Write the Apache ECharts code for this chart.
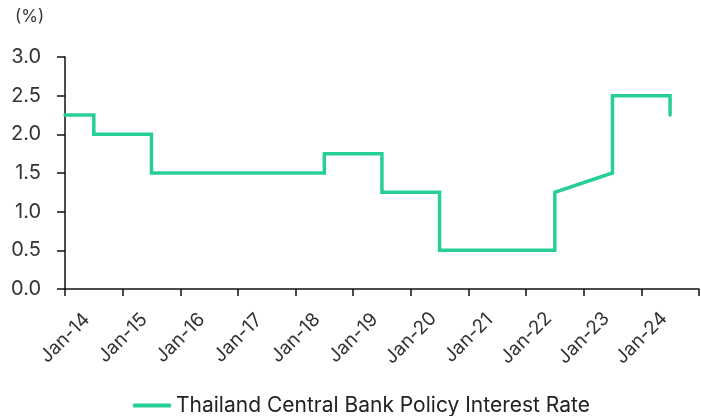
<!DOCTYPE html>
<html>
<head>
<meta charset="utf-8">
<script src="https://cdn.jsdelivr.net/npm/echarts@6/dist/echarts.min.js"></script>
<style>html,body{margin:0;padding:0;background:#fff}#c{width:701px;height:416px}</style>
</head>
<body>
<div id="c"></div>
<script>
// Half-year category axis (Jan/Jul), Jan-25 closes the axis on the right edge
var halfYears = ['Jan-14','Jul-14','Jan-15','Jul-15','Jan-16','Jul-16','Jan-17','Jul-17','Jan-18','Jul-18',
  'Jan-19','Jul-19','Jan-20','Jul-20','Jan-21','Jul-21','Jan-22','Jul-22','Jan-23','Jul-23','Jan-24','Jul-24','Jan-25'];
var tickLabels = ['Jan-14','Jan-15','Jan-16','Jan-17','Jan-18','Jan-19','Jan-20','Jan-21','Jan-22','Jan-23','Jan-24'];
var yTicks = [0.0, 0.5, 1.0, 1.5, 2.0, 2.5, 3.0];

// Policy rate path (points where the line turns)
var rateDates  = ['Jan-14','Jul-14','Jul-14','Jul-15','Jul-15','Jul-18','Jul-18','Jul-19','Jul-19','Jul-20','Jul-20','Jul-22','Jul-22','Jul-23','Jul-23','Jul-24','Jul-24'];
var rateValues = [2.25, 2.25, 2.0, 2.0, 1.5, 1.5, 1.75, 1.75, 1.25, 1.25, 0.5, 0.5, 1.25, 1.5, 2.5, 2.5, 2.25];
var seriesName = 'Thailand Central Bank Policy Interest Rate';

var FONT = 'Inter';
var chart = echarts.init(document.getElementById('c'), null, {renderer: 'canvas'});
var seriesData = rateDates.map(function (d, i) { return [d, rateValues[i]]; });

chart.setOption({
  animation: false,
  textStyle: {fontFamily: FONT},
  graphic: [{
    type: 'text', left: 15, top: 8,
    style: {text: '(%)', font: '17px ' + FONT, fill: '#333'}
  }],
  grid: {left: 65, top: 57, width: 638, height: 232, containLabel: false},
  legend: {
    bottom: -5, left: 128,
    icon: 'roundRect', itemWidth: 38, itemHeight: 4,
    textStyle: {fontSize: 21, color: '#222', fontFamily: FONT},
    data: [seriesName]
  },
  xAxis: {
    type: 'category', boundaryGap: false, data: halfYears,
    axisLine: {lineStyle: {color: '#111', width: 1.5}},
    axisTick: {interval: 1, length: 7, lineStyle: {color: '#111', width: 1.5}},
    axisLabel: {
      interval: 1, rotate: 45, margin: 49, align: 'center', verticalAlign: 'middle',
      padding: [30, 0, 0, 0],
      fontSize: 19, color: '#333', fontFamily: FONT,
      formatter: function (v) { return tickLabels.indexOf(v) >= 0 ? v : ''; }
    },
    splitLine: {show: false}
  },
  yAxis: {
    type: 'value', min: yTicks[0], max: yTicks[yTicks.length - 1], interval: 0.5,
    axisLine: {show: true, lineStyle: {color: '#111', width: 1.5}},
    axisTick: {show: true, length: 8, lineStyle: {color: '#111', width: 1.5}},
    axisLabel: {margin: 24, fontSize: 20, color: '#333', fontFamily: FONT,
      formatter: function (v) { return v.toFixed(1); }},
    splitLine: {show: false}
  },
  series: [{
    name: seriesName, type: 'line', data: seriesData,
    showSymbol: false, symbol: 'none',
    lineStyle: {color: '#27CF98', width: 3.5, cap: 'round', join: 'miter'},
    itemStyle: {color: '#27CF98'}
  }]
});
</script>
</body>
</html>
